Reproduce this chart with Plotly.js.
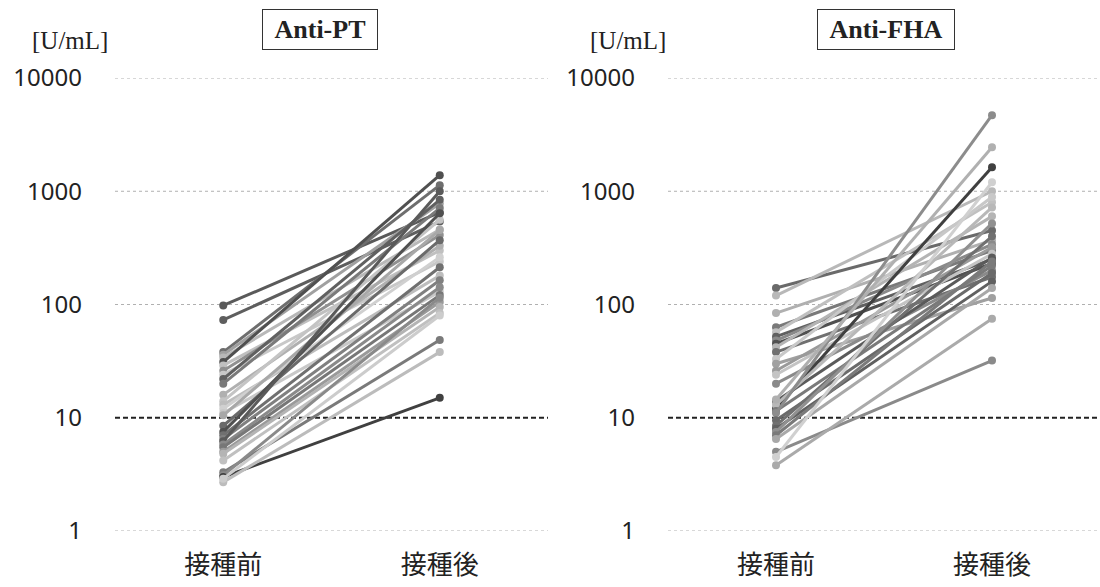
<!DOCTYPE html>
<html>
<head>
<meta charset="utf-8">
<script src="https://cdn.plot.ly/plotly-3.0.1.min.js"></script>
<style>
  html, body { margin: 0; padding: 0; background: #fff; }
  #chart { width: 1100px; height: 587px; }
</style>
</head>
<body>
<div id="chart"></div>
<script>
// Paired antibody titres before / after vaccination (U/mL), one line per subject.
const categories = ['接種前', '接種後'];
const tickValues = [1, 10, 100, 1000, 10000];
const tickLabels = ['1', '10', '100', '1000', '10000'];
const gridValues = [1, 100, 1000, 10000];
const cutoff = 10;

// Anti-PT
const ptBefore = [98, 73, 38, 36, 34, 31, 29, 26, 24, 22, 20, 16, 14, 13, 12, 11, 10.5,
                  8.5, 7.5, 7, 6.5, 6.2, 5.8, 5.5, 5.0, 4.8, 4.2, 3.3, 3.1, 3.0, 2.7, 2.9];
const ptAfter  = [650, 540, 1132, 780, 460, 1387, 300, 410, 240, 840, 710, 330, 560, 180, 262, 130, 454,
                  370, 640, 213, 164, 1000, 142, 121, 105, 95, 84, 48.5, 115, 15, 38, 80];

// Anti-FHA
const fhaBefore = [140, 120, 84, 63, 57, 52, 48, 45, 42, 38, 33, 30, 26, 24, 20, 12, 14, 13,
                   11.5, 11, 9.5, 14.5, 8.5, 8, 7.5, 7, 6.5, 5, 4.5, 3.8];
const fhaAfter  = [450, 1000, 370, 300, 800, 250, 340, 230, 600, 175, 890, 114, 320, 280, 200, 1630, 260, 720,
                   220, 4700, 190, 2450, 400, 160, 520, 240, 140, 32, 1200, 75];

// grey shade for each subject's line
const ptShade = ['#5a5a5a', '#5e5e5e', '#6e6e6e', '#a0a0a0', '#b8b8b8', '#505050', '#c0c0c0', '#909090',
                 '#c8c8c8', '#606060', '#7a7a7a', '#b0b0b0', '#c4c4c4', '#bdbdbd', '#d0d0d0', '#c8c8c8',
                 '#a8a8a8', '#6a6a6a', '#505050', '#707070', '#808080', '#5a5a5a', '#8a8a8a', '#777777',
                 '#9a9a9a', '#b4b4b4', '#c0c0c0', '#7a7a7a', '#8a8a8a', '#404040', '#bcbcbc', '#cccccc'];
const fhaShade = ['#6a6a6a', '#b8b8b8', '#b0b0b0', '#7a7a7a', '#c0c0c0', '#606060', '#8a8a8a', '#505050',
                  '#b4b4b4', '#707070', '#c8c8c8', '#a0a0a0', '#9a9a9a', '#c4c4c4', '#8a8a8a', '#404040',
                  '#5a5a5a', '#b8b8b8', '#7a7a7a', '#8c8c8c', '#6a6a6a', '#b0b0b0', '#707070', '#606060',
                  '#909090', '#7a7a7a', '#a8a8a8', '#8a8a8a', '#d0d0d0', '#aaaaaa'];

function pairTraces(before, after, shades, xa, ya) {
  return before.map((b, i) => ({
    type: 'scatter',
    mode: 'lines+markers',
    x: categories,
    y: [b, after[i]],
    xaxis: xa, yaxis: ya,
    line: { color: shades[i], width: 3 },
    marker: { color: shades[i], size: 8 },
    hoverinfo: 'y',
    showlegend: false
  }));
}

const data = [
  ...pairTraces(ptBefore, ptAfter, ptShade, 'x', 'y'),
  ...pairTraces(fhaBefore, fhaAfter, fhaShade, 'x2', 'y2')
];

const W = 1100, H = 587, mt = 78, mb = 56;
const plotH = H - mt - mb;
const py = px => (H - mb - px) / plotH;   // pixel row -> paper y
const pxX = px => px / W;                  // pixel column -> paper x

const tickFont = { family: 'Noto Sans, DejaVu Sans, sans-serif', size: 24, color: '#222' };
const catFont = { family: 'Noto Sans CJK JP, sans-serif', size: 26, color: '#222' };

function yAxis(anchor) {
  return {
    type: 'log', range: [0, 4], anchor: anchor,
    tickvals: tickValues, ticktext: tickLabels,
    tickfont: tickFont, ticks: '', ticklabelstandoff: 32,
    showgrid: false, zeroline: false, showline: false, fixedrange: true
  };
}
function xAxis(domain, anchor) {
  return {
    type: 'category', domain: domain, anchor: anchor, range: [-0.5, 1.5],
    tickfont: catFont, ticks: '', ticklabelstandoff: 16,
    showgrid: false, zeroline: false, showline: false, fixedrange: true
  };
}

// light dotted gridlines (drawn as shapes so the edge lines at 1 and 10000 also show)
function gridLines(xref, yref) {
  return gridValues.map(v => ({
    type: 'line', xref: xref + ' domain', yref: yref, layer: 'below',
    x0: 0, x1: 1, y0: v, y1: v,
    line: { color: '#b0b0b0', width: 1, dash: 'dot' }
  }));
}
function cutoffLine(xref, yref) {
  return {
    type: 'line', xref: xref + ' domain', yref: yref, layer: 'below',
    x0: 0, x1: 1, y0: cutoff, y1: cutoff,
    line: { color: '#222', width: 2, dash: '5px,3px' }
  };
}

const unitFont = { family: 'Liberation Serif, Times New Roman, serif', size: 25, color: '#222' };
const titleFont = { family: 'Liberation Serif, Times New Roman, serif', size: 26, color: '#222', weight: 'bold' };

function unitLabel(x) {
  return { xref: 'paper', yref: 'paper', x: pxX(x), y: py(40), text: '[U/mL]',
           showarrow: false, font: unitFont, xanchor: 'center', yanchor: 'middle' };
}
function boxTitle(x, text) {
  return { xref: 'paper', yref: 'paper', x: pxX(x), y: py(30), text: '\u00a0' + text + '\u00a0',
           showarrow: false, font: titleFont, xanchor: 'center', yanchor: 'middle',
           bordercolor: '#333', borderwidth: 1, borderpad: 5, bgcolor: '#fff' };
}

const layout = {
  width: W, height: H,
  margin: { l: 0, r: 0, t: mt, b: mb },
  paper_bgcolor: '#fff', plot_bgcolor: '#fff',
  xaxis: xAxis([pxX(115), pxX(548)], 'y'),
  yaxis: yAxis('x'),
  xaxis2: xAxis([pxX(668), 1], 'y2'),
  yaxis2: yAxis('x2'),
  shapes: [...gridLines('x', 'y'), ...gridLines('x2', 'y2'),
           cutoffLine('x', 'y'), cutoffLine('x2', 'y2')],
  annotations: [
    unitLabel(70), boxTitle(320, 'Anti-PT'),
    unitLabel(628), boxTitle(886, 'Anti-FHA')
  ]
};

Plotly.newPlot('chart', data, layout, { displayModeBar: false, staticPlot: true });
</script>
</body>
</html>
